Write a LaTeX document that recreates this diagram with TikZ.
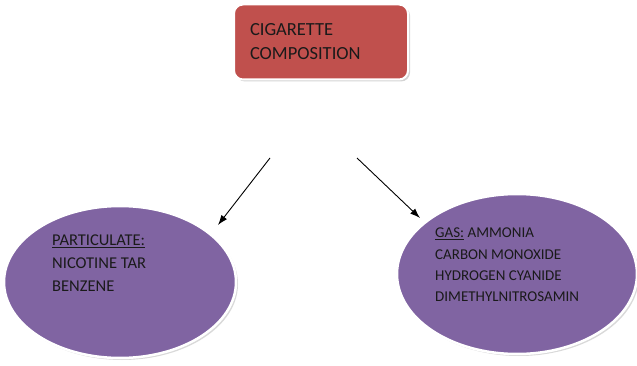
\documentclass[tikz,border=0pt]{standalone}
\usepackage{fontspec}
\setmainfont{Carlito}
\usepackage{tikz}
\usetikzlibrary{arrows.meta,shapes.geometric,shadows}
\definecolor{boxred}{HTML}{C0504D}
\definecolor{blobpurple}{HTML}{8064A2}
\definecolor{inktext}{HTML}{1A1A1A}

\begin{document}
\begin{tikzpicture}[x=1pt,y=-1pt]
\tikzset{title/.style = {shape=rectangle,rounded corners=9pt,fill=boxred,draw=white,line width=2pt,
drop shadow={opacity=0.35,shadow xshift=2pt,shadow yshift=-2pt},
minimum width=174pt,minimum height=75pt,text width=142pt,align=left,text=inktext,
font=\fontsize{18.5}{24}\selectfont}}
\tikzset{blob/.style = {shape=ellipse,fill=blobpurple,draw=white,line width=2.5pt,
drop shadow={opacity=0.3,shadow xshift=2pt,shadow yshift=-2pt}}}
\tikzset{list/.style = {anchor=north west,align=left,inner sep=0pt,text=inktext}}
\tikzset{edge/.style = {-{Latex[length=10pt,width=7pt]},line width=0.9pt}}
\useasboundingbox (0,0) rectangle (637,366);
% vertices
\node[title] (comp) at (321,42) {CIGARETTE\\COMPOSITION};
\node[blob,minimum width=232pt,minimum height=152pt] (part) at (120,282) {};
\node[blob,minimum width=240pt,minimum height=160pt] (gas) at (517,274) {};
\node[list,font=\fontsize{16.5}{23}\selectfont] (partlist) at (52,235)
  {\underline{PARTICULATE:}\\NICOTINE TAR\\BENZENE};
\node[list,font=\fontsize{15}{21.3}\selectfont] (gaslist) at (435,228)
  {\underline{GAS:} AMMONIA\\CARBON MONOXIDE\\HYDROGEN CYANIDE\\DIMETHYLNITROSAMIN};

% arrow ends
\coordinate (l1) at (270,158);
\coordinate (l2) at (218,225);
\coordinate (r1) at (357,158);
\coordinate (r2) at (420,218);

%edges
\draw[edge] (l1) -- (l2);
\draw[edge] (r1) -- (r2);
\end{tikzpicture}
\end{document}
